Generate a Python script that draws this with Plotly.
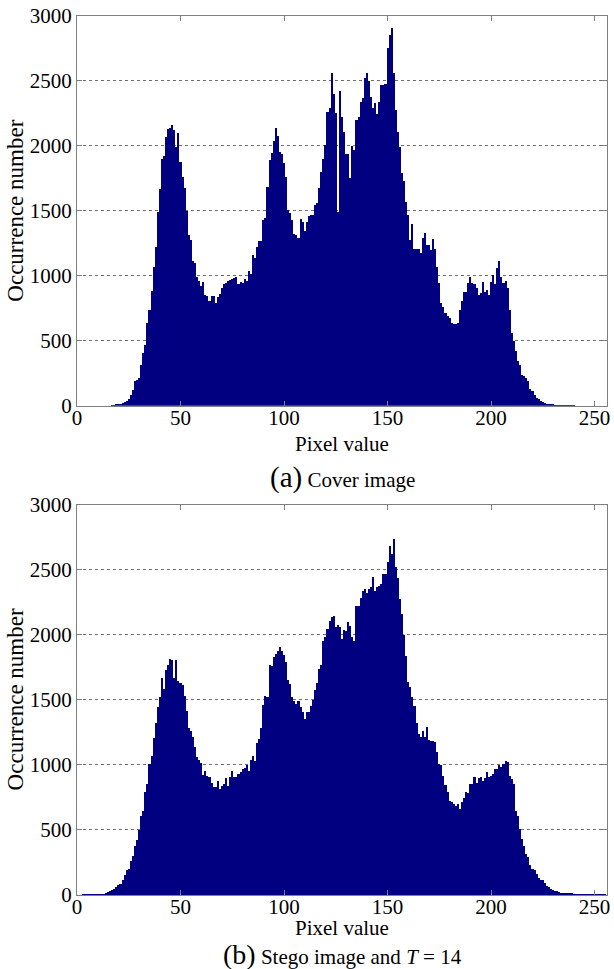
import plotly.graph_objects as go

# Pixel values 0..255
pixel_values = list(range(256))

# Histogram of the cover image (counts per gray level)
cover_counts = (
    [0] * 17 +
    [3, 6, 10, 12, 15, 20, 28, 35, 50, 85, 125, 190, 200,            # 17-29
     215, 317, 407, 470, 637, 740, 886, 1065, 1221, 1495,             # 30-39
     1667, 1900, 1925, 2071, 2127, 2135, 2160, 2122, 1994, 2097,      # 40-49
     1874, 1764, 1674, 1500, 1316, 1277, 1111, 1098, 988, 957,        # 50-59
     919, 952, 855, 842, 809, 842, 842, 791, 835, 860,                # 60-69
     906, 937, 945, 963, 970, 978, 983, 988, 937, 950,                # 70-79
     945, 978, 957, 1034, 1014, 1162, 1137, 1226, 1265, 1270,         # 80-89
     1431, 1449, 1687, 1892, 1943, 2040, 2140, 2075, 1951, 1935,      # 90-99
     1866, 1764, 1508, 1482, 1431, 1321, 1316, 1290, 1439, 1418,      # 100-109
     1342, 1413, 1464, 1470, 1470, 1546, 1559, 1674, 1802, 1900,      # 110-119
     2007, 2263, 2289, 2565, 2396, 2250, 1495, 2422, 2225, 2110,      # 120-129
     1935, 1935, 1751, 2002, 1969, 2199, 2225, 2340, 2366, 2524,      # 130-139
     2565, 2499, 2378, 2294, 2327, 2243, 2340, 2468, 2468, 2480,      # 140-149
     2750, 2852, 2908, 2565, 2276, 2110, 1994, 1790, 1731, 1572,      # 150-159
     1470, 1278, 1398, 1208, 1208, 1208, 1175, 1295, 1329, 1239,      # 160-169
     1239, 1201, 1285, 1208, 1065, 945, 791, 760, 714, 689,           # 170-179
     676, 640, 630, 630, 640, 740, 804, 876, 876, 945,                # 180-189
     988, 945, 937, 906, 855, 870, 952, 876, 893, 855,                # 190-199
     952, 1004, 937, 1060, 1111, 988, 945, 957, 906, 740,             # 200-209
     561, 502, 420, 348, 317, 241, 228, 215, 190, 133,                # 210-219
     113, 87, 61, 49, 36, 28, 23, 15, 12, 10,                         # 220-229
     8, 6, 5, 4, 3, 2, 2, 3, 4, 2, 1] +                               # 230-240
    [0] * 15
)

# Histogram of the stego image, T = 14
stego_counts = (
    [0, 0, 0, 2, 3, 3, 4, 4, 5, 5,                                    # 0-9
     6, 7, 8, 10, 15, 22, 28, 41, 50, 61,                             # 10-19
     74, 87, 118, 151, 195, 202, 261, 297, 374, 420,                  # 20-29
     502, 612, 645, 791, 855, 1009, 1073, 1208, 1321, 1449,           # 30-39
     1521, 1669, 1585, 1731, 1772, 1815, 1807, 1669, 1807, 1644,      # 40-49
     1628, 1618, 1534, 1418, 1285, 1265, 1219, 1137, 1060, 1039,      # 50-59
     1014, 927, 952, 919, 906, 860, 835, 830, 881, 817,               # 60-69
     842, 855, 901, 842, 906, 957, 906, 911, 932, 945,                # 70-79
     970, 978, 1004, 952, 1039, 1073, 1029, 1167, 1201, 1285,         # 80-89
     1464, 1534, 1521, 1772, 1764, 1833, 1854, 1874, 1905, 1879,      # 90-99
     1848, 1790, 1654, 1623, 1526, 1490, 1470, 1490, 1444, 1405,      # 100-109
     1354, 1405, 1405, 1457, 1500, 1577, 1628, 1738, 1772, 1956,      # 110-119
     1982, 2046, 2110, 2135, 2148, 2063, 2079, 2063, 1969, 2040,      # 120-129
     2030, 2097, 2071, 1982, 1956, 2225, 2225, 2284, 2340, 2353,      # 130-139
     2320, 2353, 2366, 2448, 2340, 2366, 2378, 2391, 2468, 2468,      # 140-149
     2558, 2686, 2622, 2737, 2524, 2442, 2276, 2161, 2002, 1841,      # 150-159
     1636, 1598, 1526, 1457, 1321, 1239, 1219, 1260, 1214, 1290,      # 160-169
     1193, 1183, 1183, 1175, 1098, 1009, 1004, 919, 850, 791,         # 170-179
     727, 714, 701, 689, 701, 663, 714, 748, 791, 783,                # 180-189
     855, 855, 911, 860, 901, 906, 876, 901, 945, 906,                # 190-199
     919, 932, 970, 970, 1004, 983, 1009, 1029, 1021, 919,            # 200-209
     893, 855, 650, 612, 509, 433, 381, 317, 292, 228,                # 210-219
     202, 190, 164, 133, 118, 113, 92, 67, 61, 49,                    # 220-229
     41, 31, 28, 24, 20, 18, 16, 15, 14, 13,                          # 230-239
     12, 11, 10, 9, 8, 8, 7, 6, 6, 5,                                 # 240-249
     5, 4, 4, 3, 3, 3]                                                # 250-255
)

x_ticks = [0, 50, 100, 150, 200, 250]
y_ticks = [0, 500, 1000, 1500, 2000, 2500, 3000]

BAR_COLOR = "#000080"
AXIS_COLOR = "#7f7f7f"
FONT = "Liberation Serif"

fig = go.Figure()
fig.add_trace(go.Bar(x=pixel_values, y=cover_counts, width=1,
                     marker=dict(color=BAR_COLOR, line=dict(width=0)),
                     xaxis="x", yaxis="y", showlegend=False))
fig.add_trace(go.Bar(x=pixel_values, y=stego_counts, width=1,
                     marker=dict(color=BAR_COLOR, line=dict(width=0)),
                     xaxis="x2", yaxis="y2", showlegend=False))

def x_axis(anchor):
    return dict(range=[0, 256], tickvals=x_ticks, ticks="inside", ticklen=5,
                tickcolor=AXIS_COLOR, showline=True, linecolor=AXIS_COLOR,
                linewidth=1, mirror="allticks", showgrid=False, zeroline=False,
                ticklabelstandoff=-7,
                anchor=anchor, tickfont=dict(family=FONT, size=21, color="black"))

def y_axis(anchor, domain):
    return dict(range=[0, 3000], tickvals=y_ticks, ticks="inside", ticklen=5,
                tickcolor=AXIS_COLOR, showline=True, linecolor=AXIS_COLOR,
                linewidth=1, mirror="allticks", showgrid=True,
                gridcolor="#6e6e6e", griddash="dot", gridwidth=1,
                zeroline=False, anchor=anchor, domain=domain,
                tickfont=dict(family=FONT, size=21, color="black"))

fig.update_layout(
    width=614, height=969,
    margin=dict(l=77, r=4, t=14, b=74),
    paper_bgcolor="white", plot_bgcolor="white",
    bargap=0,
    font=dict(family=FONT, size=21, color="black"),
    xaxis=x_axis("y"),
    yaxis=y_axis("x", [0.5565, 1.0]),
    xaxis2=x_axis("y2"),
    yaxis2=y_axis("x2", [0.0, 0.4438]),
)

labels = [
    dict(text="Pixel value", x=0.5, y=0.513, size=21),
    dict(text="<span style='font-size:29px'>(a)</span> Cover image",
         x=0.5, y=0.4745, size=21),
    dict(text="Pixel value", x=0.5, y=-0.0375, size=21),
    dict(text="<span style='font-size:28px'>(b)</span> Stego image and <i>T</i> = 14",
         x=0.5, y=-0.068, size=21),
    dict(text="Occurrence number", x=-0.116, y=0.778, textangle=-90, size=23),
    dict(text="Occurrence number", x=-0.116, y=0.222, textangle=-90, size=23),
]
for lab in labels:
    size = lab.pop("size")
    fig.add_annotation(xref="paper", yref="paper", showarrow=False,
                       xanchor="center", yanchor="middle",
                       font=dict(family=FONT, size=size, color="black"), **lab)

fig.write_html("out.html")
